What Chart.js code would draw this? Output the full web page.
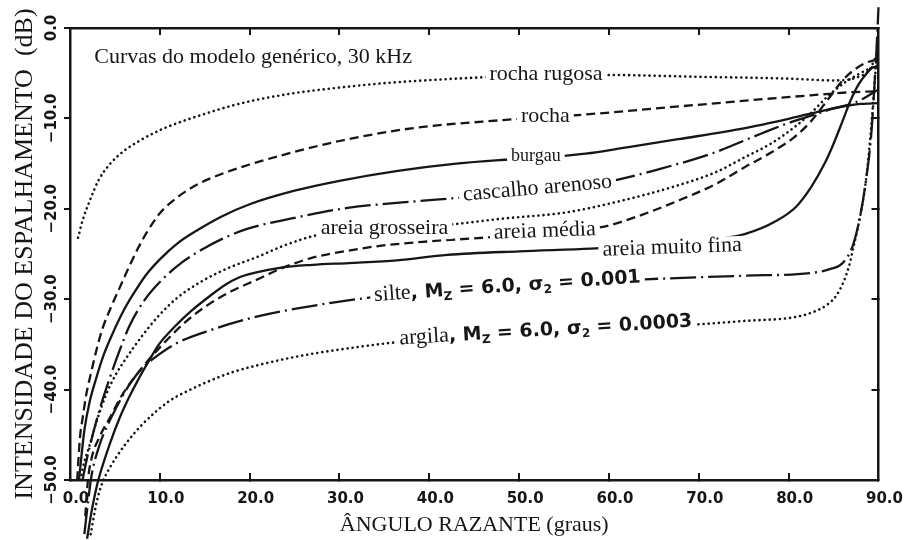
<!DOCTYPE html>
<html>
<head>
<meta charset="utf-8">
<script src="https://cdn.jsdelivr.net/npm/chart.js@4.4.1/dist/chart.umd.min.js"></script>
<style>
  html, body { margin: 0; padding: 0; background: #fff; }
  #wrap { width: 914px; height: 540px; }
</style>
</head>
<body>
<div id="wrap"><canvas id="chart" width="914" height="540"></canvas></div>
<script>
// ticks
const xTicks = [0, 10, 20, 30, 40, 50, 60, 70, 80, 90];
const xTickLabels = ['0.0', '10.0', '20.0', '30.0', '40.0', '50.0', '60.0', '70.0', '80.0', '90.0'];
const yTicks = [0, -10, -20, -30, -40, -50];
const yTickLabels = ['0.0', '\u221210.0', '\u221220.0', '\u221230.0', '\u221240.0', '\u221250.0'];

// curves: [grazing angle (deg), backscatter strength (dB)]
const rochaRugosa = [[0.9,-23.2],[1.4,-21.3],[2.2,-19.1],[3.2,-16.8],[4.4,-15.1],[6,-13.6],[7.7,-12.5],[10,-11.3],[12,-10.5],[15,-9.5],[18,-8.6],[21,-7.9],[25,-7.2],[29,-6.7],[35,-6.1],[43,-5.6],[50,-5.3],[60,-5.2],[70,-5.4],[80,-5.6],[85,-5.8],[87.5,-5.5],[89,-4.6],[89.7,-3.2]];
const rocha = [[0.8,-50],[1.1,-45.4],[1.4,-43.2],[1.8,-40.6],[2.4,-37.9],[2.9,-35.8],[3.6,-33.3],[4.6,-30.8],[5.5,-28.8],[6.4,-26.8],[7.5,-24.5],[8.5,-22.7],[10,-20.5],[12,-18.7],[14,-17.4],[17,-16.1],[20,-15.1],[25,-13.7],[30,-12.5],[38,-11.1],[48,-10.2],[57,-9.6],[64,-9],[71,-8.4],[78,-7.8],[83,-7.4],[87,-7.1],[90,-7]];
const burgau = [[1.0,-50],[1.6,-44.5],[2.2,-41.3],[2.9,-38.8],[3.7,-36.3],[4.7,-33.9],[6,-31.2],[7,-29.5],[8.4,-27.4],[10,-25.6],[12,-23.8],[14.3,-22.3],[17,-20.8],[20,-19.5],[25,-18],[30,-16.9],[36.5,-15.8],[43,-15],[48,-14.6],[53,-14.3],[57.4,-13.9],[62,-13.2],[67.7,-12.3],[75,-11.1],[80.6,-9.9],[84,-9.1],[86.5,-8.6],[88,-8.4],[90,-8.3]];
const cascalhoArenoso = [[1.4,-50],[1.8,-48],[2.4,-45.5],[3.3,-42.2],[4.4,-38.8],[5.4,-36],[6.6,-33],[8.3,-30.1],[10.2,-27.9],[12.5,-25.9],[14.7,-24.5],[17,-23.3],[19.8,-22.2],[25,-21],[30.9,-19.9],[37,-19.3],[43,-18.8],[50,-18.2],[55,-17.6],[60.4,-16.9],[66,-15.5],[71.4,-13.9],[76.9,-11.7],[80,-10.5],[82.5,-9.7],[85,-8.9],[87.5,-8.2],[90,-6.8]];
const areiaGrosseira = [[1.2,-50],[1.4,-48.8],[2.2,-46.1],[3,-43.4],[4,-40.6],[5,-38.5],[6.2,-36.6],[8,-34.1],[9.9,-31.8],[12,-29.8],[14.7,-28],[17.5,-26.6],[20.9,-25.3],[24,-24],[27.6,-22.9],[35,-22.2],[42.7,-21.7],[48,-21.1],[55.2,-20.4],[61,-19.2],[67.7,-17.4],[72,-15.9],[75.1,-14.3],[78,-12.8],[80.6,-11],[82.5,-9.4],[84.3,-7.6],[86.3,-6],[88,-5],[89.4,-4.3],[90,-4.1]];
const areiaMedia = [[1.7,-54],[2.0,-50],[2.4,-47.6],[3.3,-45.2],[4.5,-43],[5.8,-40.6],[8,-37.6],[11,-34.3],[13,-32.4],[15.4,-30.6],[18,-29.1],[20.9,-27.8],[23.5,-26.6],[27,-25.4],[30,-24.8],[34.5,-24.1],[40,-23.6],[46,-23.2],[52,-22.7],[59.3,-22],[63,-20.9],[67.7,-19.1],[72,-17.2],[75.1,-15.4],[78,-13.8],[80.6,-12.1],[82.5,-10.3],[84.3,-8],[86,-5.8],[87.2,-4.7],[88.5,-3.9],[89.4,-3.6],[90,-3.5]];
const areiaMuitoFina = [[1.9,-56.5],[2.4,-53.5],[3.0,-50.6],[3.6,-48.5],[4.5,-45.8],[5.5,-43.2],[6.6,-40.8],[7.7,-38.7],[8.8,-36.8],[9.9,-35],[11.7,-33],[13.5,-31.3],[15.5,-29.7],[17.3,-28.4],[18.8,-27.6],[20.5,-27.1],[23.5,-26.5],[27,-26.2],[31,-26],[36.4,-25.7],[42,-25.1],[50,-24.7],[58,-24.4],[65,-24],[70,-23.6],[75.1,-22.8],[78.7,-21.3],[80.8,-19.8],[82.5,-17.6],[84,-15],[85,-12.8],[86,-10.3],[86.9,-8],[87.8,-6.2],[88.7,-5],[89.3,-4.4],[89.7,-4.3],[90,-4.5]];
const silte = [[1.6,-56],[2.0,-52.5],[2.4,-49.5],[3.3,-46.1],[4.2,-43.9],[5.1,-42.1],[6.2,-40.1],[7.3,-38.5],[8.4,-37.3],[9.5,-36.4],[11.8,-34.9],[15.4,-33.5],[20.9,-31.9],[26,-30.9],[32.7,-29.9],[40,-29.1],[50,-28.4],[60,-28],[64,-27.8],[75.1,-27.4],[82.5,-27.1],[84.5,-26.7],[86.1,-25.9],[87.2,-23.9],[88,-20.6],[88.6,-16.9],[89.2,-11.7],[89.6,-5.5],[89.85,-1],[90,2.3]];
const argila = [[2.3,-56],[3.0,-52.3],[3.6,-50.3],[4.4,-48.7],[5.2,-47.4],[6.2,-46],[8,-43.9],[11,-41.3],[13,-40.2],[15.4,-39.1],[18,-38.1],[20.9,-37.3],[24,-36.6],[27.2,-36],[32.7,-35.2],[36,-34.8],[45,-34.2],[55,-33.6],[63,-33.1],[69.6,-32.8],[75.1,-32.4],[80.6,-32],[82.5,-31.5],[84.3,-30.6],[85.3,-29.6],[86.1,-28.1],[86.7,-26.4],[87.2,-24.3],[88,-20.6],[88.6,-16.9],[89.1,-12],[89.5,-7],[89.8,-3]];

const INK = '#161616';
const SERIF = '"Liberation Serif", "Times New Roman", serif';
const SANS = '"DejaVu Sans", sans-serif';

const dotted = { borderDash: [0.1, 5], borderCapStyle: 'round', borderWidth: 2.6 };
const dashed = { borderDash: [9, 5], borderWidth: 2.3 };
const solid = { borderWidth: 2.3 };
const dashDot = { borderDash: [26, 5, 2, 5], borderWidth: 2.3 };

const series = [
  ['rocha rugosa', rochaRugosa, dotted],
  ['rocha', rocha, dashed],
  ['burgau', burgau, solid],
  ['cascalho arenoso', cascalhoArenoso, dashDot],
  ['areia grosseira', areiaGrosseira, dotted],
  ['areia média', areiaMedia, dashed],
  ['areia muito fina', areiaMuitoFina, solid],
  ['silte', silte, dashDot],
  ['argila', argila, dotted],
];

// labels written along the curves (anchor = left end of the baseline, in data units)
const sansBig = 'bold 19px ' + SANS;
const sansSub = 'bold 12px ' + SANS;
const curveLabels = [
  { at: [46.7, -5.8], rot: 0, segs: [{ t: 'rocha rugosa', font: '22px ' + SERIF }] },
  { at: [50.2, -10.4], rot: 0, segs: [{ t: 'rocha', font: '22px ' + SERIF }] },
  { at: [49.1, -14.7], rot: 0, segs: [{ t: 'burgau', font: '18px ' + SERIF }] },
  { at: [43.8, -19.1], rot: -5, segs: [{ t: 'cascalho arenoso', font: '22px ' + SERIF }] },
  { at: [27.9, -22.8], rot: 0, segs: [{ t: 'areia grosseira', font: '22px ' + SERIF }] },
  { at: [47.2, -23.3], rot: -2, segs: [{ t: 'areia média', font: '22px ' + SERIF }] },
  { at: [59.3, -25.2], rot: -2, segs: [{ t: 'areia muito fina', font: '22px ' + SERIF }] },
  { at: [33.9, -30.2], rot: -4, segs: [
    { t: 'silte', font: '22px ' + SERIF }, { t: ', M', font: sansBig }, { t: 'Z', font: sansSub, dy: 4 },
    { t: ' = 6.0, σ', font: sansBig }, { t: '2', font: sansSub, dy: 4 }, { t: ' = 0.001', font: sansBig }] },
  { at: [36.7, -35.0], rot: -3.5, segs: [
    { t: 'argila', font: '22px ' + SERIF }, { t: ', M', font: sansBig }, { t: 'Z', font: sansSub, dy: 4 },
    { t: ' = 6.0, σ', font: sansBig }, { t: '2', font: sansSub, dy: 4 }, { t: ' = 0.0003', font: sansBig }] },
];
const noteText = 'Curvas do modelo genérico, 30 kHz';
const noteAt = [2.7, -3.9];

function drawRich(ctx, segs, px, py, rot, boxed) {
  ctx.save();
  ctx.translate(px, py);
  ctx.rotate(rot * Math.PI / 180);
  ctx.textAlign = 'left';
  ctx.textBaseline = 'alphabetic';
  let w = 0;
  segs.forEach(s => { ctx.font = s.font; s.w = ctx.measureText(s.t).width; w += s.w; });
  if (boxed) {
    ctx.fillStyle = '#fff';
    ctx.fillRect(-4, -15, w + 8, 20);
  }
  ctx.fillStyle = INK;
  let cx = 0;
  segs.forEach(s => { ctx.font = s.font; ctx.fillText(s.t, cx, s.dy || 0); cx += s.w; });
  ctx.restore();
}

const textPlugin = {
  id: 'chartText',
  afterDatasetsDraw(chart) {
    const { ctx, scales: { x, y } } = chart;
    curveLabels.forEach(l => {
      drawRich(ctx, l.segs, x.getPixelForValue(l.at[0]), y.getPixelForValue(l.at[1]), l.rot, true);
    });
    drawRich(ctx, [{ t: noteText, font: '22px ' + SERIF }],
      x.getPixelForValue(noteAt[0]), y.getPixelForValue(noteAt[1]), 0, false);
  },
  afterDraw(chart) {
    // y tick labels are rotated, reading upwards
    const { ctx, scales: { y } } = chart;
    ctx.save();
    ctx.font = 'bold 15px ' + SANS;
    ctx.fillStyle = INK;
    ctx.textAlign = 'center';
    ctx.textBaseline = 'middle';
    yTicks.forEach((v, i) => {
      ctx.save();
      ctx.translate(52, y.getPixelForValue(v));
      ctx.rotate(-Math.PI / 2);
      ctx.fillText(yTickLabels[i], 0, 0);
      ctx.restore();
    });
    ctx.restore();
  }
};

const frameGrid = (len) => ({
  display: true, drawOnChartArea: false, drawTicks: true,
  tickLength: len, tickColor: INK, tickWidth: 2, color: INK, lineWidth: 2
});
const frameBorder = { display: true, color: INK, width: 2.5 };

new Chart(document.getElementById('chart'), {
  type: 'line',
  data: {
    datasets: series.map(([name, pts, style]) => ({
      label: name,
      data: pts.map(([a, db]) => ({ x: a, y: db })),
      borderColor: INK,
      pointRadius: 0,
      fill: false,
      clip: false,
      cubicInterpolationMode: 'monotone',
      ...style
    }))
  },
  options: {
    responsive: false,
    animation: false,
    devicePixelRatio: 1,
    layout: { padding: { left: 0, top: 28, right: 28, bottom: 0 } },
    plugins: { legend: { display: false }, tooltip: { enabled: false } },
    scales: {
      x: {
        type: 'linear', position: 'bottom', min: 0, max: 90,
        afterBuildTicks: s => { s.ticks = xTicks.map(v => ({ value: v })); },
        afterFit: s => { s.height = 60; },
        ticks: {
          callback: (v, i) => xTickLabels[i],
          font: { family: SANS, size: 15, weight: 'bold' }, color: INK,
          padding: 17, labelOffset: 6, maxRotation: 0, autoSkip: false
        },
        grid: frameGrid(-7),
        border: frameBorder,
        title: {
          display: true, text: 'ÂNGULO RAZANTE (graus)', color: INK,
          font: { family: SERIF, size: 22 }, padding: { top: 0, bottom: 2 }
        }
      },
      x2: {
        type: 'linear', position: 'top', min: 0, max: 90,
        afterBuildTicks: s => { s.ticks = xTicks.map(v => ({ value: v })); },
        afterFit: s => { s.height = 0; },
        ticks: { display: false },
        grid: frameGrid(-7),
        border: frameBorder
      },
      y: {
        type: 'linear', position: 'left', min: -50, max: 0,
        afterBuildTicks: s => { s.ticks = yTicks.map(v => ({ value: v })); },
        afterFit: s => { s.width = 70; },
        ticks: { display: false },
        grid: frameGrid(6),
        border: frameBorder,
        title: {
          display: true, text: 'INTENSIDADE DO ESPALHAMENTO  (dB)', color: INK,
          font: { family: SERIF, size: 26 }, padding: { top: 10, bottom: 0 }
        }
      },
      y2: {
        type: 'linear', position: 'right', min: -50, max: 0,
        afterBuildTicks: s => { s.ticks = yTicks.map(v => ({ value: v })); },
        afterFit: s => { s.width = 0; },
        ticks: { display: false },
        grid: frameGrid(-7),
        border: frameBorder
      }
    }
  },
  plugins: [textPlugin]
});
</script>
</body>
</html>
